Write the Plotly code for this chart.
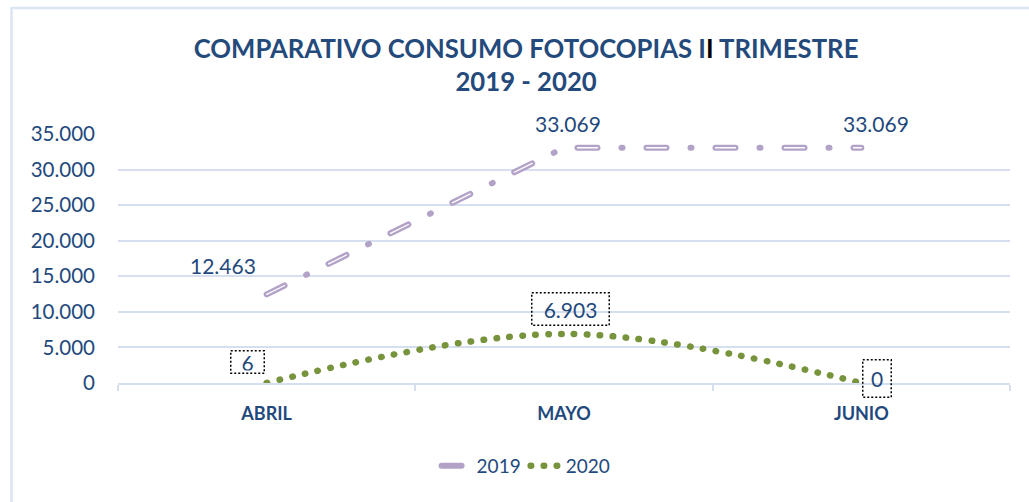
import plotly.graph_objects as go

months = ["ABRIL", "MAYO", "JUNIO"]
y2019 = [12463, 33069, 33069]
y2020 = [6, 6903, 0]
yticks = [0, 5000, 10000, 15000, 20000, 25000, 30000, 35000]

BLUE = "#1F497D"
PURPLE = "#B3A2C7"
GREEN = "#77933C"
GRID = "#D5DFEF"
FONT = "Lato"

def fmt(v):
    return f"{v:,}".replace(",", ".")

fig = go.Figure()
# 2019 base (purple dash-dot, thick)
fig.add_trace(go.Scatter(
    x=months, y=y2019, name="2019", mode="lines",
    line=dict(color=PURPLE, width=6, dash="20px,24px,1px,24px"),
))
# 2019 white centre (compound line effect on dashes only)
fig.add_trace(go.Scatter(
    x=months, y=y2019, showlegend=False, mode="lines", hoverinfo="skip",
    line=dict(color="white", width=1.3, dash="20px,49px"),
))
# 2020 dotted, smoothed
fig.add_trace(go.Scatter(
    x=months, y=y2020, name="2020", mode="lines",
    line=dict(color=GREEN, width=6.5, dash="0.5px,12.5px", shape="spline", smoothing=1),
))

# data labels 2019
lab19 = [(-44, 29), (4, 24), (15, 24)]
for m, v, (dx, dy) in zip(months, y2019, lab19):
    fig.add_annotation(x=m, y=v, text=fmt(v), showarrow=False, xshift=dx, yshift=dy,
                       font=dict(family=FONT, size=21, color=BLUE))
# data labels 2020 (dotted boxes)
lab20 = [(-19, 21, 28, 17), (6, 25, 72, 27), (16, 5, 23, 32)]
for m, v, (dx, dy, w, h) in zip(months, y2020, lab20):
    fig.add_annotation(x=m, y=v, text=fmt(v), showarrow=False, xshift=dx, yshift=dy,
                       font=dict(family=FONT, size=21, color=BLUE),
                       bordercolor="black", borderwidth=1.5, borderpad=2,
                       width=w, height=h, bgcolor="rgba(255,255,255,0)")

# chart frame
fig.add_shape(type="rect", xref="paper", yref="paper",
              x0=-0.1194, x1=1.2, y0=-0.8, y1=1.506,
              line=dict(color="#DCE5F3", width=2.5), layer="below")

fig.update_layout(
    width=1029, height=502,
    margin=dict(l=118, r=19, t=134, b=119),
    paper_bgcolor="white", plot_bgcolor="white",
    separators=",.",
    font=dict(family=FONT, color=BLUE),
    title=dict(
        text="<b>COMPARATIVO CONSUMO FOTOCOPIAS I<span style='color:black'>I</span> TRIMESTRE<br>2019 - 2020</b>",
        x=0.4575, xref="paper", xanchor="center",
        y=1 - 58 / 502, yref="container", yanchor="middle",
        font=dict(family=FONT, size=25.7, color="#244A7C"),
    ),
    xaxis=dict(
        type="category", range=[-0.5, 2.5], showgrid=False, showline=True, linecolor=GRID, linewidth=1.5,
        ticks="outside", tickson="boundaries", ticklen=6, tickcolor=GRID, tickwidth=1.5,
        tickfont=dict(family=FONT, size=18, color=BLUE, weight="bold"),
        ticklabelstandoff=14, zeroline=False, automargin=False,
    ),
    yaxis=dict(
        range=[0, 35000], tickvals=yticks, tickformat=",d",
        showgrid=True, gridcolor=GRID, gridwidth=1.5, zeroline=False, showline=False,
        tickfont=dict(family=FONT, size=20.5, color=BLUE),
        ticklabelstandoff=22, automargin=False,
    ),
    legend=dict(
        orientation="h", x=0.4575, xanchor="center", y=-0.333, yanchor="middle",
        font=dict(family=FONT, size=19, color=BLUE), itemwidth=30,
    ),
    showlegend=True,
)

post = """
document.body.style.margin='0';
document.body.style.padding='0';
document.body.style.overflow='hidden';
var gd = document.getElementById('{plot_id}');
function fix(){
  gd.querySelectorAll('path.js-line').forEach(function(p){ p.style.strokeLinecap='round'; });
  gd.querySelectorAll('g.annotation rect.bg').forEach(function(r){
    if (r.style.strokeWidth && parseFloat(r.style.strokeWidth) > 0) { r.style.strokeDasharray='2,2'; }
  });
}
fix();
setTimeout(fix, 50);
"""
fig.write_html("out.html", post_script=post, config={"displayModeBar": False})
